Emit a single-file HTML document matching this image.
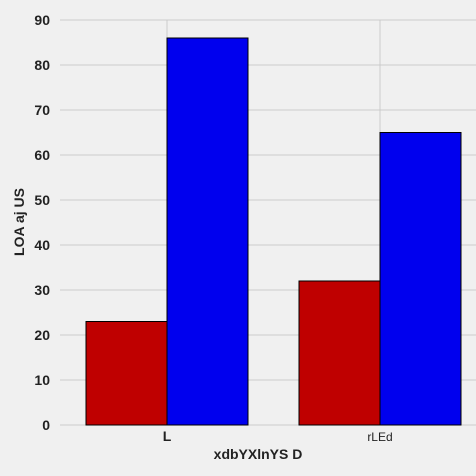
<!DOCTYPE html>
<html><head><meta charset="utf-8"><style>
html,body{margin:0;padding:0;background:#f0f0f0;}
svg{display:block;font-family:"Liberation Sans",sans-serif;}
</style></head><body>
<svg id="c" width="476" height="476" viewBox="0 0 476 476"></svg>
<script>
const categories=["L","rLEd"];
const seriesRed=[23,32];
const seriesBlue=[86,65];
const yTicks=[0,10,20,30,40,50,60,70,80,90];
const NS="http://www.w3.org/2000/svg";
const svg=document.getElementById('c');
function y(v){return 425-v*4.5;}
function x(i){return 167+i*213;}
const bw=81;
function mk(t,a,txt){const e=document.createElementNS(NS,t);for(const k in a)e.setAttribute(k,a[k]);if(txt!==undefined)e.textContent=txt;svg.appendChild(e);return e;}
yTicks.forEach(t=>{
  const g=mk('line',{x1:60,x2:476,y1:y(t),y2:y(t),stroke:'#cbcbcb','stroke-width':1});
  
  
  const l=mk('text',{x:50,y:y(t)+5,'text-anchor':'end','font-size':14,'font-weight':'bold',fill:'#222'},t);
  
  
});
categories.forEach((c,i)=>{
  const g=mk('line',{x1:x(i),x2:x(i),y1:20,y2:425,stroke:'#cbcbcb','stroke-width':1});
  
  
});
categories.forEach((c,i)=>{
  const r=mk('rect',{x:x(i)-bw,y:y(seriesRed[i]),width:bw,height:y(0)-y(seriesRed[i]),fill:'#bf0000',stroke:'#000','stroke-width':1});
  
  
  const b=mk('rect',{x:x(i),y:y(seriesBlue[i]),width:bw,height:y(0)-y(seriesBlue[i]),fill:'#0000ee',stroke:'#000','stroke-width':1});
  
  
  const bold=i===0;
  const l=mk('text',{x:x(i),y:441,'text-anchor':'middle','font-size':bold?14:12,'font-weight':bold?'bold':'normal',fill:'#222'},c);
  
  
});
const xt=mk('text',{x:258,y:459,'text-anchor':'middle','font-size':14,'font-weight':'bold',fill:'#222'},'xdbYXlnYS D');


const yt=mk('text',{x:0,y:0,'text-anchor':'middle','font-size':14,'font-weight':'bold',fill:'#222',transform:'translate(24,222) rotate(-90)'},'LOA aj  US');


</script>
</body></html>
